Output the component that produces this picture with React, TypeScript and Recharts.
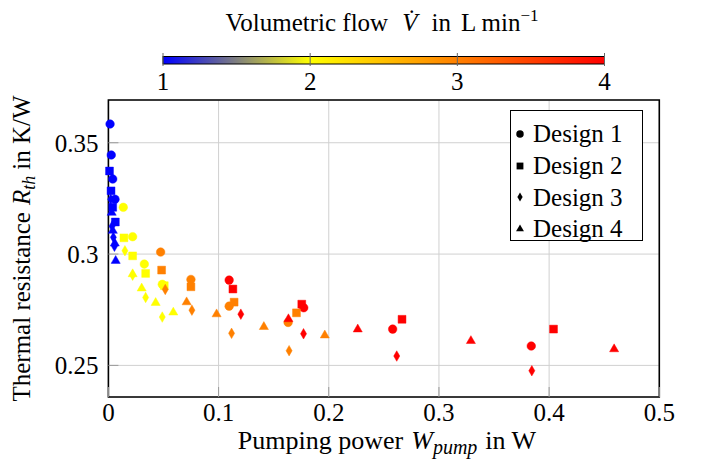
import {
  ScatterChart,
  Scatter,
  XAxis,
  YAxis,
  CartesianGrid,
  ReferenceArea,
  Legend,
  Symbols,
} from "recharts";

// [pumping power W, thermal resistance K/W, volumetric flow L/min]
type Pt = [number, number, number];

const design1: Pt[] = [
  [0.0015, 0.3584, 1], [0.0026, 0.3445, 1], [0.0039, 0.3337, 1], [0.006, 0.3246, 1],
  [0.0135, 0.321, 2], [0.022, 0.3078, 2], [0.0326, 0.2955, 2], [0.0489, 0.2864, 2],
  [0.0474, 0.3009, 3], [0.0749, 0.2886, 3], [0.1096, 0.2766, 3], [0.1631, 0.2693, 3],
  [0.1096, 0.2883, 4], [0.1773, 0.2759, 4], [0.258, 0.2663, 4], [0.3838, 0.2587, 4],
];

const design2: Pt[] = [
  [0.001, 0.3373, 1], [0.0024, 0.3284, 1], [0.0039, 0.321, 1], [0.0063, 0.3144, 1],
  [0.0141, 0.3073, 2], [0.022, 0.2992, 2], [0.0338, 0.2913, 2], [0.0507, 0.2858, 2],
  [0.0483, 0.2928, 3], [0.0749, 0.2853, 3], [0.1141, 0.2784, 3], [0.1707, 0.2736, 3],
  [0.113, 0.2843, 4], [0.1755, 0.2775, 4], [0.2665, 0.2707, 4], [0.404, 0.2663, 4],
];

const design3: Pt[] = [
  [0.0021, 0.3246, 1], [0.0033, 0.3125, 1], [0.0045, 0.3075, 1], [0.0055, 0.3035, 1],
  [0.015, 0.3015, 2], [0.022, 0.2905, 2], [0.0338, 0.2805, 2], [0.0489, 0.2717, 2],
  [0.0516, 0.2841, 3], [0.0758, 0.2748, 3], [0.1118, 0.2644, 3], [0.164, 0.2566, 3],
  [0.1202, 0.273, 4], [0.1771, 0.2642, 4], [0.2617, 0.2542, 4], [0.3843, 0.2476, 4],
];

const design4: Pt[] = [
  [0.003, 0.3186, 1], [0.004, 0.3105, 1], [0.0058, 0.3048, 1], [0.0066, 0.297, 1],
  [0.022, 0.291, 2], [0.0302, 0.2846, 2], [0.0429, 0.2781, 2], [0.0589, 0.2738, 2],
  [0.071, 0.2784, 3], [0.0982, 0.273, 3], [0.1411, 0.2673, 3], [0.1964, 0.2635, 3],
  [0.1634, 0.2708, 4], [0.2263, 0.2662, 4], [0.329, 0.261, 4], [0.459, 0.2573, 4],
];

const designNames = ["Design 1", "Design 2", "Design 3", "Design 4"];
const xTicks = [0, 0.1, 0.2, 0.3, 0.4, 0.5];
const yTicks = [0.25, 0.3, 0.35];
const flowTicks = [1, 2, 3, 4];

const FONT = "Liberation Serif, Tinos, Times New Roman, Times, DejaVu Serif, serif";
const FS = 25;
const Y_MIN = 0.2358;
const Y_MAX = 0.3692;
const TICK_GRAY = "#9a9a9a";

// colormap: blue -> yellow -> orange -> red over flow 1..4
const cmap = [
  [0, 0, 255],
  [255, 255, 0],
  [255, 128, 0],
  [255, 0, 0],
];
function flowColor(v: number) {
  const t = Math.min(Math.max(v - 1, 0), 3);
  const i = Math.min(Math.floor(t), 2);
  const f = t - i;
  const a = cmap[i];
  const b = cmap[i + 1];
  const c = a.map((x, k) => Math.round(x + (b[k] - x) * f));
  return `rgb(${c[0]},${c[1]},${c[2]})`;
}

const toRows = (d: Pt[]) => d.map(([p, r, v]) => ({ p, r, v }));

const markers: { type: any; size: number }[] = [
  { type: "circle", size: 58 },
  { type: "square", size: 62 },
  { type: "diamond", size: 32 },
  { type: "triangle", size: 36 },
];

const makeShape = (type: any, size: number) => (props: any) => {
  const c = flowColor(props.payload.v);
  return (
    <Symbols
      cx={props.cx}
      cy={props.cy}
      type={type}
      size={size}
      fill={c}
      stroke={c}
      strokeOpacity={0.45}
      strokeWidth={1}
    />
  );
};

const textStyle = { fontFamily: FONT, fontSize: FS, fill: "#000" };

function LegendBox() {
  return (
    <div
      style={{
        width: 133,
        height: 131,
        boxSizing: "border-box",
        border: "1.3px solid #000",
        background: "#fff",
        paddingTop: 7,
        paddingLeft: 2,
        fontFamily: FONT,
        fontSize: FS,
        color: "#000",
      }}
    >
      {designNames.map((name, i) => (
        <div key={name} style={{ display: "flex", alignItems: "center", height: 31.7 }}>
          <svg width={14} height={14} style={{ marginRight: 6 }}>
            <Symbols cx={7} cy={7} type={markers[i].type} size={markers[i].size * 0.75} fill="#000" />
          </svg>
          <span style={{ lineHeight: 1, fontFamily: FONT }}>{name}</span>
        </div>
      ))}
    </div>
  );
}

function Colorbar() {
  const x0 = 163;
  const x1 = 604.5;
  const px = (v: number) => x0 + ((v - 1) / 3) * (x1 - x0);
  return (
    <svg
      width={705}
      height={98}
      style={{ position: "absolute", left: 0, top: 0, pointerEvents: "none" }}
    >
      <defs>
        <linearGradient id="flowGrad" x1="0" x2="1" y1="0" y2="0">
          {cmap.map((c, i) => (
            <stop key={i} offset={i / 3} stopColor={`rgb(${c[0]},${c[1]},${c[2]})`} />
          ))}
        </linearGradient>
      </defs>
      <text x={382} y={31} textAnchor="middle" style={textStyle}>
        Volumetric flow
        <tspan dx={14} fontStyle="italic">V̇</tspan>
        <tspan dx={14}>in</tspan>
        <tspan dx={10}>L min</tspan>
        <tspan dy={-10} fontSize={17}>−1</tspan>
      </text>
      <rect x={x0} y={56.5} width={x1 - x0} height={7.5} fill="url(#flowGrad)" stroke="#000" strokeWidth={1} />
      {flowTicks.map((t) => (
        <g key={t}>
          <line x1={px(t)} x2={px(t)} y1={53} y2={66} stroke="#666" strokeWidth={1} />
          <text x={px(t)} y={90} textAnchor="middle" style={textStyle}>
            {t}
          </text>
        </g>
      ))}
    </svg>
  );
}

export default function App() {
  const sets = [design1, design2, design3, design4];
  return (
    <div style={{ position: "absolute", left: 0, top: 0, width: 705, height: 471, background: "#fff" }}>
      <ScatterChart
        width={705}
        height={471}
        margin={{ top: 100, right: 45.7, bottom: 24, left: 48.4 }}
      >
        <CartesianGrid stroke="#d0d0d0" strokeWidth={1} />
        <XAxis
          type="number"
          dataKey="p"
          domain={[0, 0.5]}
          ticks={xTicks}
          tickFormatter={(v: number) => (v === 0 ? "0" : String(v))}
          tick={{ style: textStyle, fontFamily: FONT, fontSize: FS, fill: "#000" }}
          tickSize={-10}
          tickMargin={16}
          axisLine={false}
          tickLine={{ stroke: TICK_GRAY, strokeWidth: 1 }}
          height={50}
          label={{
            content: () => (
              <text x={387} y={449} textAnchor="middle" style={{ ...textStyle, fontSize: 26 }}>
                Pumping power
                <tspan dx={8} fontStyle="italic">W</tspan>
                <tspan fontStyle="italic" fontSize={20} dy={5}>pump</tspan>
                <tspan dx={8} dy={-5}>in W</tspan>
              </text>
            ),
          }}
        />
        <XAxis
          xAxisId="top"
          orientation="top"
          type="number"
          domain={[0, 0.5]}
          ticks={xTicks}
          tick={false}
          tickSize={-10}
          axisLine={false}
          tickLine={{ stroke: TICK_GRAY, strokeWidth: 1 }}
          height={0}
        />
        <YAxis
          type="number"
          dataKey="r"
          domain={[Y_MIN, Y_MAX]}
          ticks={yTicks}
          allowDataOverflow
          tick={{ style: textStyle, fontFamily: FONT, fontSize: FS, fill: "#000" }}
          tickSize={-10}
          tickMargin={20}
          axisLine={false}
          tickLine={{ stroke: TICK_GRAY, strokeWidth: 1 }}
          width={60}
          label={{
            content: () => (
              <text transform="translate(30,248.5) rotate(-90)" textAnchor="middle" style={textStyle}>
                Thermal resistance
                <tspan dx={7} fontStyle="italic">R</tspan>
                <tspan fontStyle="italic" fontSize={18} dy={5}>th</tspan>
                <tspan dx={6} dy={-5}>in K/W</tspan>
              </text>
            ),
          }}
        />
        <YAxis
          yAxisId="right"
          orientation="right"
          type="number"
          domain={[Y_MIN, Y_MAX]}
          ticks={yTicks}
          allowDataOverflow
          tick={false}
          tickSize={-10}
          axisLine={false}
          tickLine={{ stroke: TICK_GRAY, strokeWidth: 1 }}
          width={0}
        />
        {sets.map((d, i) => (
          <Scatter
            key={designNames[i]}
            name={designNames[i]}
            data={toRows(d)}
            shape={makeShape(markers[i].type, markers[i].size)}
            isAnimationActive={false}
          />
        ))}
        <ReferenceArea
          x1={0}
          x2={0.5}
          y1={Y_MIN}
          y2={Y_MAX}
          fill="none"
          stroke="#000"
          strokeWidth={1.6}
          ifOverflow="visible"
        />
        <Legend
          layout="vertical"
          align="center"
          verticalAlign="middle"
          content={() => <LegendBox />}
          wrapperStyle={{ left: 510, top: 110, width: 133, height: 131 }}
        />
      </ScatterChart>
      <Colorbar />
    </div>
  );
}
